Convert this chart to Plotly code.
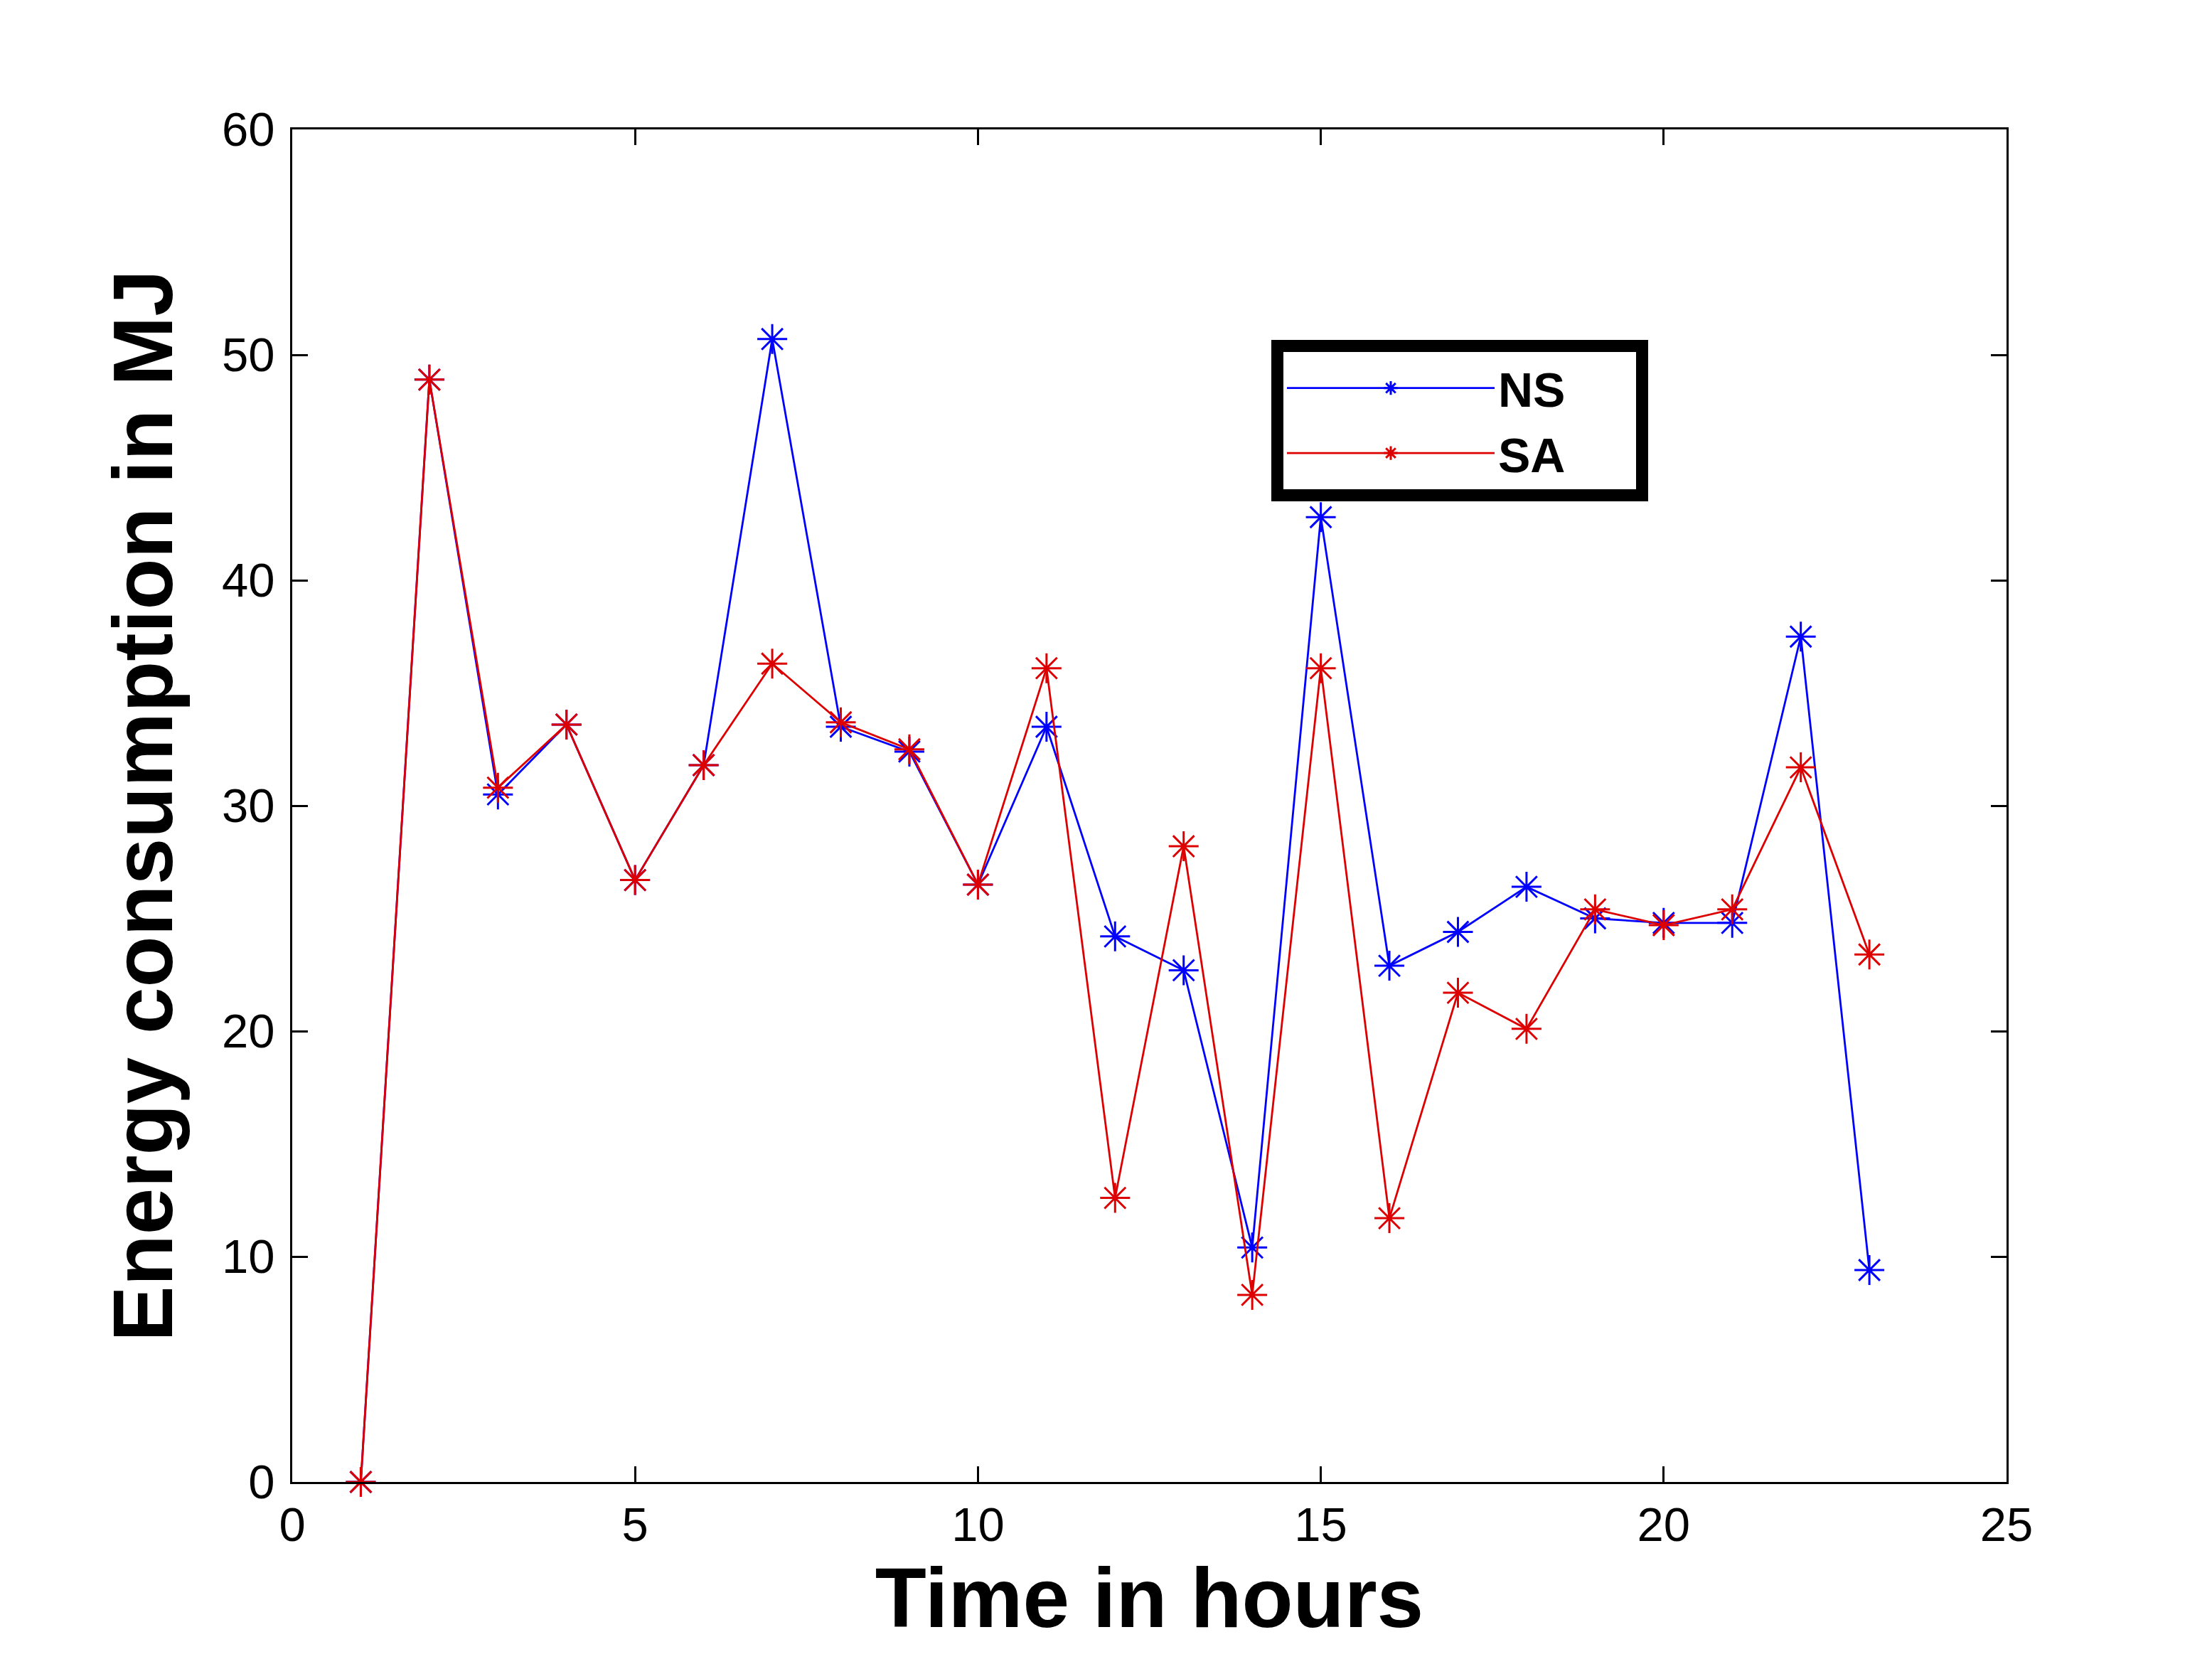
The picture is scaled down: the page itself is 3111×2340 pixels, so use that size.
import plotly.graph_objects as go

hours = list(range(1, 24))
ns_energy = [0, 48.9, 30.5, 33.6, 26.7, 31.8, 50.7, 33.5, 32.4, 26.5, 33.5, 24.2,
             22.7, 10.4, 42.8, 22.9, 24.4, 26.4, 25.0, 24.8, 24.8, 37.5, 9.4]
sa_energy = [0, 48.9, 30.8, 33.6, 26.7, 31.8, 36.3, 33.7, 32.5, 26.5, 36.1, 12.6,
             28.2, 8.3, 36.1, 11.7, 21.7, 20.1, 25.4, 24.7, 25.4, 31.7, 23.4]
series_names = ["NS", "SA"]
x_ticks = [0, 5, 10, 15, 20, 25]
y_ticks = [0, 10, 20, 30, 40, 50, 60]

W, H = 3111, 2340
L, R, T, B = 403, 297, 174, 264
PAD = "\u00a0" * 5  # widens the legend box like the reference

fig = go.Figure()
for name, vals, col in [(series_names[0], ns_energy, "#0000FF"),
                        (series_names[1], sa_energy, "#DD0000")]:
    fig.add_trace(go.Scatter(
        x=hours, y=vals, name=name + PAD, mode="lines+markers",
        line=dict(color=col, width=2.8),
        marker=dict(symbol="asterisk-open", size=35, color=col,
                    line=dict(color=col, width=3)),
        cliponaxis=False,
    ))

axis_common = dict(
    showline=True, linecolor="black", linewidth=3, mirror="ticks",
    ticks="inside", ticklen=22, tickwidth=2.7, tickcolor="black",
    showgrid=False, zeroline=False,
    tickfont=dict(family="Liberation Sans, Arial, sans-serif", size=67, color="black"),
)

fig.update_layout(
    width=W, height=H,
    margin=dict(l=L, r=R, t=T, b=B),
    paper_bgcolor="white", plot_bgcolor="white",
    xaxis=dict(range=[0, 25], tickvals=x_ticks, ticktext=[str(v) for v in x_ticks],
               ticklabelstandoff=0,
               title=dict(text="<b>Time in hours</b>", standoff=4,
                          font=dict(family="Liberation Sans, Arial, sans-serif", size=118, color="black")),
               **axis_common),
    yaxis=dict(range=[0, 60], tickvals=y_ticks, ticktext=[str(v) for v in y_ticks],
               ticklabelstandoff=8,
               title=dict(text="<b>Energy consumption in MJ</b>", standoff=30,
                          font=dict(family="Liberation Sans, Arial, sans-serif", size=118, color="black")),
               **axis_common),
    legend=dict(
        x=(1780 - L) / (W - L - R), y=(2076 - 470) / (H - T - B),
        xanchor="left", yanchor="top",
        bgcolor="white", bordercolor="black", borderwidth=17,
        font=dict(family="Liberation Sans, Arial, sans-serif", size=68, color="black", weight="bold"),
        itemwidth=292,
    ),
    showlegend=True,
)

fig.write_html("out.html")
